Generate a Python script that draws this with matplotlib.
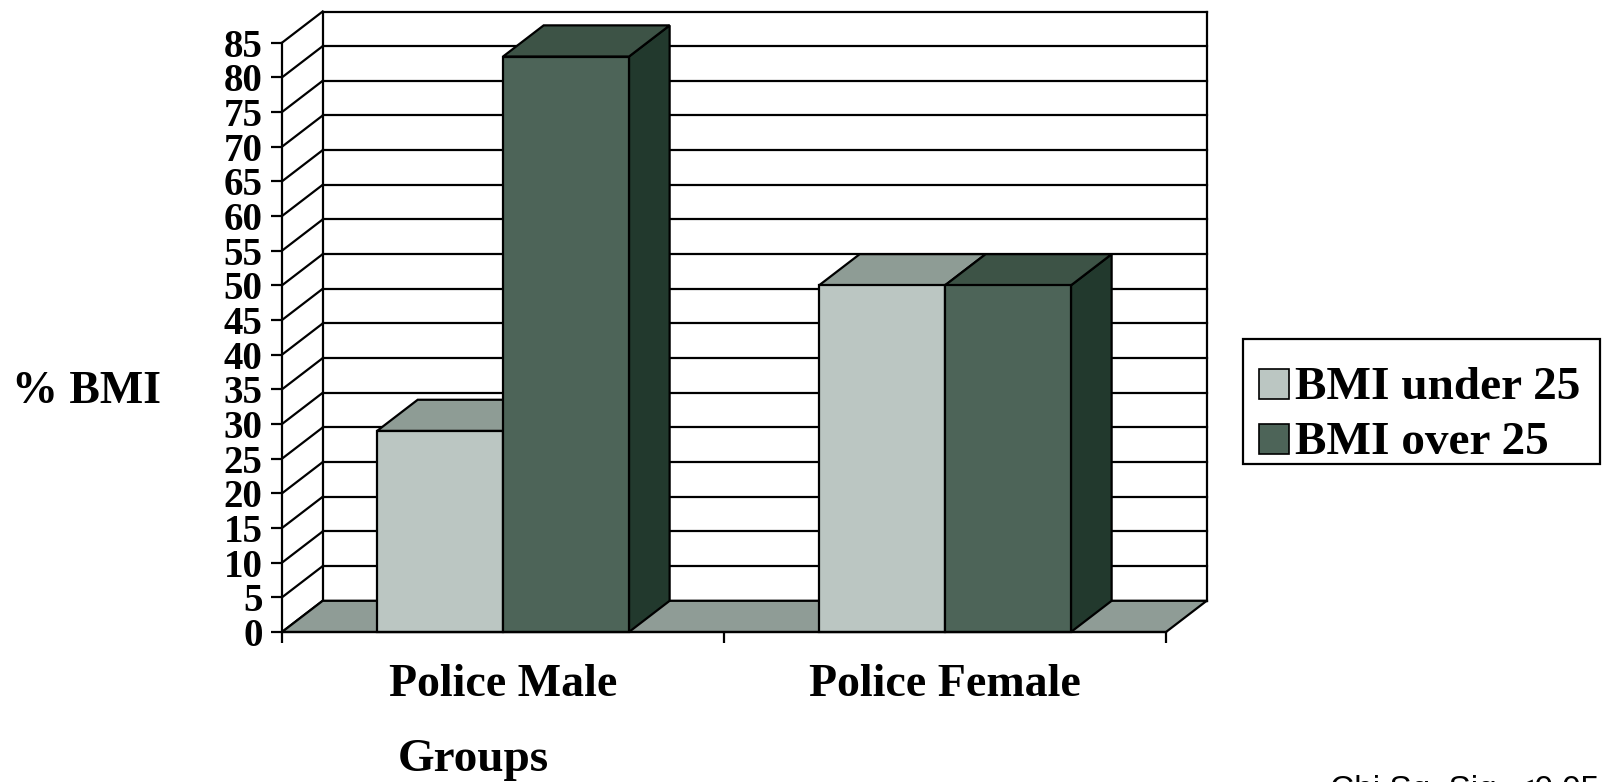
import matplotlib

matplotlib.use("Agg")
import matplotlib.pyplot as plt
from matplotlib.patches import Polygon, Rectangle

GROUPS = ["Police Male", "Police Female"]
SERIES = ["BMI under 25", "BMI over 25"]
UNDER_25 = [29, 50]
OVER_25 = [83, 50]
Y_TICKS = list(range(0, 90, 5))
FOOTNOTE = "Chi Sq. Sig. <0.05"

# face colours: front, top, side
LIGHT = ("#bbc6c2", "#8e9c95", "#7f8d86")
DARK = ("#4d6458", "#3d5346", "#22392d")
FLOOR = "#8f9c96"

W, H = 1604, 782
DPI = 100
DX, DY = 0.092, 4.5  # fake depth, in data units
BAR_W = 0.285
LW = 1.6

plt.rcParams["font.family"] = ["Liberation Serif", "DejaVu Serif"]
plt.rcParams["font.weight"] = "bold"

fig = plt.figure(figsize=(W / DPI, H / DPI), dpi=DPI)
ax = fig.add_axes([282 / W, 1 - 632 / H, 884 / W, (632 - 42.7) / H])
n = len(GROUPS)
top = Y_TICKS[-1]
ax.set_xlim(0, n)
ax.set_ylim(0, top)
ax.patch.set_visible(False)


def line(xs, ys, z=1):
    ax.plot(xs, ys, color="black", lw=LW, clip_on=False, zorder=z, solid_capstyle="projecting")


# back wall and side wall grid
for v in Y_TICKS:
    line([DX, n + DX], [v + DY, v + DY])
    line([0, DX], [v, v + DY])
line([DX, DX], [DY, top + DY])
line([n + DX, n + DX], [DY, top + DY])

# floor
ax.add_patch(Polygon([(0, 0), (n, 0), (n + DX, DY), (DX, DY)], fc=FLOOR,
                     ec="black", lw=LW, clip_on=False, zorder=2))


def box(x0, h, colors, z):
    x1 = x0 + BAR_W
    front, topc, side = colors
    kw = dict(ec="black", lw=LW, clip_on=False, joinstyle="miter")
    ax.add_patch(Polygon([(x1, 0), (x1 + DX, DY), (x1 + DX, h + DY), (x1, h)], fc=side, zorder=z, **kw))
    ax.add_patch(Polygon([(x0, h), (x1, h), (x1 + DX, h + DY), (x0 + DX, h + DY)], fc=topc, zorder=z, **kw))
    ax.add_patch(Polygon([(x0, 0), (x1, 0), (x1, h), (x0, h)], fc=front, zorder=z + 0.1, **kw))


z = 3
for i in range(n):
    c = i + 0.5
    box(c - BAR_W, UNDER_25[i], LIGHT, z)
    box(c, OVER_25[i], DARK, z + 1)
    z += 2

for s in ["top", "right"]:
    ax.spines[s].set_visible(False)
for s in ["left", "bottom"]:
    ax.spines[s].set_linewidth(LW)
    ax.spines[s].set_zorder(20)

ax.set_yticks(Y_TICKS)
ax.set_yticklabels([str(v) for v in Y_TICKS], fontsize=28, fontweight="bold")
ax.tick_params(axis="y", length=8, width=LW, pad=6)
ax.set_xticks(range(n + 1))
ax.set_xticklabels([])
ax.tick_params(axis="x", which="major", length=8, width=LW)
ax.set_xticks([i + 0.5 for i in range(n)], minor=True)
ax.set_xticklabels(GROUPS, minor=True, fontsize=33, fontweight="bold")
ax.tick_params(axis="x", which="minor", length=0, pad=23)

fig.text(12 / W, 1 - 403 / H, "% BMI", fontsize=33, fontweight="bold", va="baseline", ha="left")
fig.text(473 / W, 1 - 771 / H, "Groups", fontsize=34, fontweight="bold", va="baseline", ha="center")
fig.text(1330 / W, 1 - 775 / H, FOOTNOTE, fontsize=24, fontweight="normal",
         family=["Liberation Sans", "DejaVu Sans"], va="top", ha="left")

# legend, laid out by hand in figure pixels
fig.patches.append(Rectangle((1243 / W, 1 - 464 / H), 357 / W, 125 / H, transform=fig.transFigure,
                             fc="white", ec="black", lw=LW))
for k, (label, col) in enumerate(zip(SERIES, [LIGHT[0], DARK[0]])):
    base = 399 + 55 * k
    fig.patches.append(Rectangle((1259 / W, 1 - base / H), 30 / W, 30 / H, transform=fig.transFigure,
                                 fc=col, ec="black", lw=1.2))
    fig.text(1295 / W, 1 - base / H, label, fontsize=34, fontweight="bold", va="baseline", ha="left")

fig.savefig("out.png", dpi=DPI)
